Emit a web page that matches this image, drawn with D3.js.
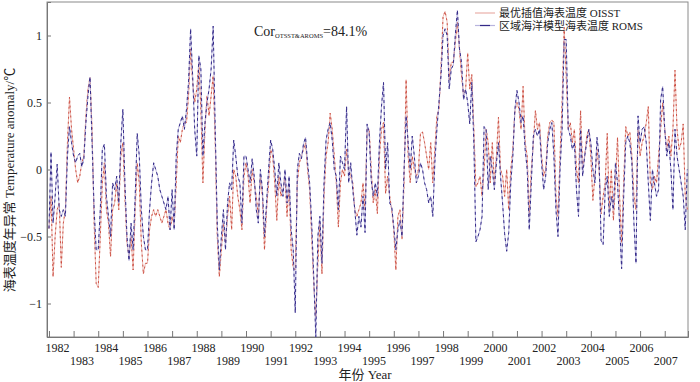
<!DOCTYPE html>
<html>
<head>
<meta charset="utf-8">
<script src="https://cdn.jsdelivr.net/npm/d3@7"></script>
<style>
  body { margin: 0; background: #fff; }
  svg { display: block; }
  text { font-family: "Liberation Serif", "Noto Sans CJK SC", serif; fill: #222; }
</style>
</head>
<body>
<svg id="chart" width="700" height="382"></svg>
<script>
// monthly anomalies, Jan 1982 .. Dec 2007
const years = d3.range(1982, 2008)

const oisst = [
  -0.44, -0.2, -0.8, -0.5, -0.3, -0.25, -0.73, -0.4, -0.3, 0.2, 0.54, 0.3,      // 1982
  0.15, 0.0, -0.1, -0.05, 0.05, 0.1, 0.4, 0.6, 0.69, 0.3, -0.4, -0.85,          // 1983
  -0.88, -0.5, -0.1, 0.05, -0.3, -0.4, -0.65, -0.3, -0.25, -0.1, -0.3, 0.1,     // 1984
  0.2, -0.2, -0.55, -0.65, -0.5, -0.75, -0.3, 0.05, -0.1, -0.55, -0.78, -0.7,   // 1985
  -0.7, -0.45, -0.35, -0.3, -0.35, -0.3, -0.35, -0.4, -0.35, -0.3, -0.4, -0.45, // 1986
  -0.35, -0.42, -0.1, 0.25, 0.2, 0.3, 0.35, 0.35, 0.55, 0.9, 0.65, 0.5,         // 1987
  0.6, 0.8, 0.45, -0.1, 0.3, 0.55, 0.4, 0.55, 0.7, 0.2, -0.5, -0.8,             // 1988
  -0.6, -0.4, -0.55, -0.35, -0.2, -0.45, 0.0, -0.05, -0.2, -0.3, -0.45, -0.05,  // 1989
  0.05, -0.05, -0.25, 0.0, -0.1, -0.2, -0.35, -0.05, -0.2, -0.6, -0.3, -0.1,    // 1990
  0.15, 0.1, -0.1, -0.38, -0.05, -0.2, -0.15, -0.05, -0.35, -0.1, -0.6, -0.73,  // 1991
  -0.75, -0.1, 0.05, 0.1, 0.15, 0.2, 0.0, -0.15, -0.5, -0.85, -1.1, -0.7,       // 1992
  -0.4, -0.78, -0.2, 0.1, 0.2, 0.42, 0.3, 0.1, -0.1, -0.43, -0.1, 0.0,          // 1993
  -0.05, 0.15, 0.0, -0.05, -0.1, -0.3, -0.35, -0.3, -0.25, -0.1, -0.3, 0.3,     // 1994
  0.3, 0.0, -0.25, -0.15, -0.33, 0.1, 0.3, 0.35, -0.18, -0.05, -0.2, -0.3,      // 1995
  -0.45, -0.75, -0.35, -0.3, -0.52, -0.1, 0.67, 0.1, -0.1, 0.1, 0.0, -0.05,     // 1996
  0.0, 0.27, 0.28, 0.2, 0.1, 0.0, 0.2, -0.1, 0.15, 0.4, 0.45, 0.76,             // 1997
  1.14, 1.18, 1.1, 0.67, 0.8, 0.8, 0.95, 1.1, 0.9, 0.7, 0.55, 0.6,              // 1998
  0.87, 0.6, 0.71, 0.3, -0.13, -0.1, -0.05, -0.2, 0.0, 0.3, 0.2, -0.1,          // 1999
  0.2, -0.1, 0.1, 0.39, 0.0, -0.05, -0.2, 0.0, -0.3, 0.0, 0.15, 0.44,           // 2000
  0.5, 0.45, 0.3, 0.62, 0.2, 0.1, -0.35, 0.0, 0.2, 0.44, 0.3, 0.35,             // 2001
  0.1, -0.05, 0.0, 0.25, 0.35, 0.37, 0.35, -0.2, -0.35, 0.1, 0.5, 1.06,         // 2002
  0.7, 0.3, 0.35, 0.2, 0.3, 0.0, -0.1, 0.44, 0.0, 0.1, 0.25, 0.3,               // 2003
  0.1, -0.23, -0.05, 0.15, 0.0, -0.33, -0.2, -0.1, 0.27, -0.3, 0.0, -0.38,      // 2004
  -0.1, 0.24, -0.2, -0.55, -0.1, 0.32, 0.25, 0.28, 0.1, -0.2, -0.3, 0.3,        // 2005
  0.1, 0.2, 0.25, 0.35, 0.47, -0.1, -0.15, -0.05, -0.1, 0.1, 0.3, 0.5,          // 2006
  0.3, 0.15, 0.25, 0.1, 0.3, 0.74, 0.3, 0.15, 0.2, 0.34, -0.2, -0.3             // 2007
]

const roms = [
  -0.44, 0.13, -0.4, -0.2, 0.04, -0.3, -0.35, -0.3, -0.35, 0.1, 0.32, 0.2,      // 1982
  0.1, 0.05, 0.1, 0.12, 0.02, 0.08, 0.35, 0.55, 0.69, 0.2, -0.3, -0.6,          // 1983
  -0.6, -0.3, 0.15, 0.19, -0.2, -0.35, -0.5, -0.1, -0.15, -0.05, -0.25, 0.2,    // 1984
  0.45, -0.1, -0.5, -0.68, -0.4, -0.6, -0.2, 0.27, 0.1, -0.3, -0.5, -0.6,       // 1985
  -0.6, -0.3, -0.1, 0.05, 0.0, -0.05, -0.15, -0.2, -0.25, -0.3, -0.2, -0.45,    // 1986
  -0.15, -0.45, 0.1, 0.3, 0.35, 0.4, 0.3, 0.45, 0.65, 1.05, 0.7, 0.3,           // 1987
  0.1, 0.85, 0.75, 0.1, 0.35, 0.5, 0.6, 0.75, 1.07, 0.3, -0.4, -0.75,           // 1988
  -0.5, -0.3, -0.6, -0.25, -0.1, -0.15, 0.22, 0.1, -0.05, -0.1, -0.4, 0.1,      // 1989
  0.1, 0.0, -0.1, 0.08, -0.05, -0.3, -0.4, 0.0, -0.15, -0.5, -0.25, 0.0,        // 1990
  0.22, 0.15, 0.0, -0.2, 0.05, -0.1, -0.2, 0.0, -0.25, -0.05, -0.45, -0.6,      // 1991
  -1.07, 0.0, 0.12, 0.08, 0.19, 0.24, 0.05, -0.1, -0.4, -0.8, -1.25, -0.5,      // 1992
  -0.35, -0.7, -0.1, 0.22, 0.3, 0.35, 0.22, 0.0, -0.05, -0.3, 0.1, 0.05,        // 1993
  0.0, 0.47, -0.1, 0.05, -0.15, -0.3, -0.49, -0.35, -0.43, -0.2, -0.47, 0.34,   // 1994
  0.27, -0.08, -0.2, -0.1, -0.2, 0.2, 0.47, 0.65, 0.0, 0.2, -0.25, -0.28,       // 1995
  -0.43, -0.6, -0.45, -0.38, -0.5, 0.0, 0.4, 0.2, 0.0, 0.25, 0.1, -0.1,         // 1996
  -0.05, 0.05, 0.0, -0.1, -0.15, -0.25, -0.2, -0.35, 0.05, 0.3, 0.5, 0.7,       // 1997
  1.0, 1.05, 1.0, 0.6, 0.75, 0.78, 1.01, 1.19, 0.9, 0.8, 0.52, 0.6,             // 1998
  0.5, 0.34, 0.65, 0.2, -0.54, -0.5, -0.45, -0.35, 0.32, 0.3, -0.15, 0.1,       // 1999
  0.0, -0.15, 0.05, 0.2, -0.05, -0.25, -0.48, -0.61, -0.47, -0.1, 0.1, 0.45,    // 2000
  0.59, 0.5, 0.35, 0.4, 0.15, 0.0, -0.45, -0.1, 0.25, 0.3, 0.25, 0.3,           // 2001
  0.05, -0.15, -0.05, 0.2, 0.3, 0.35, 0.1, -0.3, -0.5, 0.0, 0.3, 0.97,          // 2002
  0.97, 0.3, 0.25, 0.15, 0.2, -0.15, -0.35, 0.3, -0.05, 0.1, 0.2, 0.3,          // 2003
  0.2, 0.0, -0.1, 0.24, 0.1, -0.53, -0.56, -0.15, -0.05, -0.35, -0.2, -0.3,     // 2004
  0.05, -0.1, -0.4, -0.74, -0.2, 0.2, 0.25, 0.2, 0.05, -0.4, -0.7, 0.4,         // 2005
  0.2, 0.3, 0.32, 0.2, -0.1, -0.38, 0.0, -0.1, -0.2, -0.15, 0.52, 0.62,         // 2006
  0.3, 0.1, 0.2, 0.0, -0.3, 0.3, 0.1, 0.0, -0.1, -0.2, -0.45, 0.0               // 2007
]

const yTicks = [-1, -0.5, 0, 0.5, 1]
const seriesNames = ['最优插值海表温度 OISST', '区域海洋模型海表温度 ROMS']

const margin = { left: 47, right: 12, top: 2, bottom: 45 }
const width = 700, height = 382

const svg = d3.select('#chart')

const x = d3.scaleLinear()
    .domain([1981.92, 2007.945])
    .range([margin.left, width - margin.right])

const y = d3.scaleLinear()
    .domain([-1.25, 1.25])
    .range([height - margin.bottom, margin.top])

const t = (i) => 1982 + i / 12

// frame
svg.append('rect')
    .attr('x', x.range()[0]).attr('y', y.range()[1])
    .attr('width', x.range()[1] - x.range()[0])
    .attr('height', y.range()[0] - y.range()[1])
    .attr('fill', 'none')
    .attr('stroke', '#8a8a8a')
    .attr('stroke-width', 1)

// x axis: inward ticks at each year
const xAxis = svg.append('g')
    .attr('transform', `translate(0,${y.range()[0]})`)
    .call(d3.axisBottom(x).tickValues(years).tickSize(-6).tickFormat(''))
xAxis.select('.domain').attr('stroke', '#777')
xAxis.selectAll('.tick line').attr('stroke', '#777')

svg.append('g').selectAll('text')
    .data(years)
    .enter().append('text')
    .attr('x', (d) => x(d + 0.35) - (d - 1982) * 0.3)
    .attr('y', (d) => d % 2 === 0 ? 352 : 365)
    .attr('text-anchor', 'middle')
    .attr('font-size', 12)
    .text((d) => d)

// y axis: inward ticks
const yAxis = svg.append('g')
    .attr('transform', `translate(${x.range()[0]},0)`)
    .call(d3.axisLeft(y).tickValues(yTicks).tickSize(-4).tickPadding(5)
        .tickFormat((d) => d === 0 ? '0' : d3.format('')(d).replace('-', '\u2212')))
yAxis.select('.domain').attr('stroke', '#777')
yAxis.selectAll('.tick line').attr('stroke', '#777')
yAxis.selectAll('.tick text')
    .attr('font-size', 12)
    .attr('font-family', '"Liberation Serif", serif')
    .attr('fill', '#222')

// lines
const line = d3.line()
    .x((d, i) => x(t(i)))
    .y((d) => y(d))

// OISST: pale red base with darker red dashes
svg.append('path')
    .datum(oisst)
    .attr('d', line)
    .attr('fill', 'none')
    .attr('stroke', '#eab0a8')
    .attr('stroke-width', 0.9)

svg.append('path')
    .datum(oisst)
    .attr('d', line)
    .attr('fill', 'none')
    .attr('stroke', '#c8463a')
    .attr('stroke-width', 0.9)
    .attr('stroke-dasharray', '2,3')

// ROMS: lavender base with navy dashes
svg.append('path')
    .datum(roms)
    .attr('d', line)
    .attr('fill', 'none')
    .attr('stroke', '#b8b4de')
    .attr('stroke-width', 0.9)

svg.append('path')
    .datum(roms)
    .attr('d', line)
    .attr('fill', 'none')
    .attr('stroke', '#342a88')
    .attr('stroke-width', 1)
    .attr('stroke-dasharray', '3,3')

// legend
const legend = svg.append('g')
const legendColors = [['#eab0a8', null], ['#b8b4de', '#342a88']]
seriesNames.forEach((name, i) => {
    const ly = 13 + i * 12.5
    legend.append('line')
        .attr('x1', 475).attr('x2', 495)
        .attr('y1', ly).attr('y2', ly)
        .attr('stroke', legendColors[i][0])
        .attr('stroke-width', 1.2)
    if (legendColors[i][1]) {
        legend.append('line')
            .attr('x1', 480).attr('x2', 490)
            .attr('y1', ly).attr('y2', ly)
            .attr('stroke', legendColors[i][1])
            .attr('stroke-width', 1.2)
    }
    legend.append('text')
        .attr('x', 499).attr('y', ly + 4)
        .attr('font-size', 11)
        .text(name)
})

// correlation note
const cor = svg.append('text')
    .attr('x', 254).attr('y', 36)
    .attr('font-size', 14)
cor.append('tspan').text('Cor')
cor.append('tspan').attr('font-size', 6.5).attr('dy', 2).text('OTSST&AROMS')
cor.append('tspan').attr('dy', -2).text('=84.1%')

// axis titles
svg.append('text')
    .attr('transform', `translate(14,${180}) rotate(-90)`)
    .attr('text-anchor', 'middle')
    .attr('font-size', 13)
    .text('海表温度年异常 Temperature anomaly/℃')

svg.append('text')
    .attr('x', 365).attr('y', 379)
    .attr('text-anchor', 'middle')
    .attr('font-size', 13)
    .text('年份 Year')
</script>
</body>
</html>
